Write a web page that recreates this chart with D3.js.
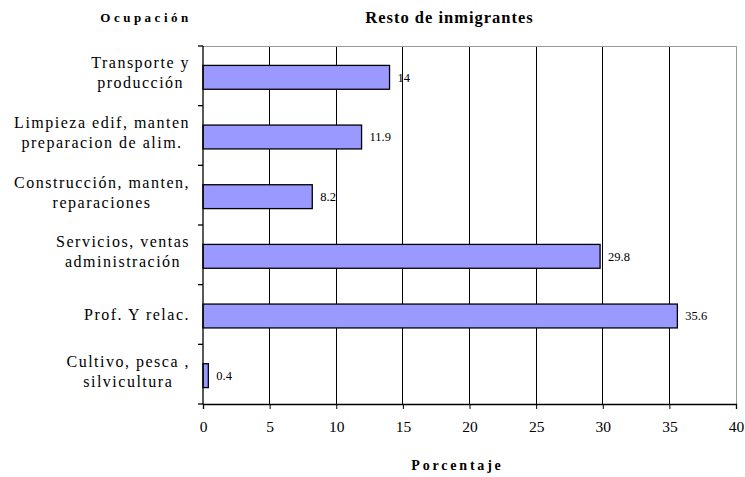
<!DOCTYPE html>
<html><head><meta charset="utf-8">
<script src="https://cdn.jsdelivr.net/npm/d3@7"></script>
<style>body{margin:0;background:#fff}svg{display:block}</style>
</head><body><svg id="c" width="745" height="477" font-family="Liberation Serif, serif"></svg>
<script>
const categories = [
  ["Transporte y","producción"],
  ["Limpieza edif, manten","preparacion de alim."],
  ["Construcción, manten,","reparaciones"],
  ["Servicios, ventas","administración"],
  ["Prof. Y relac."],
  ["Cultivo, pesca ,","silvicultura"]
];
const values = [14, 11.9, 8.2, 29.8, 35.6, 0.4];
const valueLabels = ["14","11.9","8.2","29.8","35.6","0.4"];
const xTicks = [0,5,10,15,20,25,30,35,40];

const FONT = "'Liberation Serif', 'Times New Roman', serif";
const svg = d3.select("#c");
const L = 203, R = 736, T = 46, B = 404;
const x = d3.scaleLinear().domain([0,40]).range([L,R]);
const y = d3.scaleBand().domain(d3.range(categories.length)).range([T,B]).paddingInner(0.6).paddingOuter(0.3);
const yb = d3.scaleBand().domain(d3.range(categories.length)).range([T,B]);

// gridlines
svg.append("g").selectAll("line").data(xTicks.slice(1)).join("line")
  .attr("x1",d=>x(d)).attr("x2",d=>x(d)).attr("y1",T).attr("y2",B)
  .attr("stroke",d=>d===40?"#999":"#000").attr("stroke-width",1).attr("shape-rendering","crispEdges");
// top border
svg.append("line").attr("x1",L).attr("x2",R).attr("y1",T).attr("y2",T).attr("stroke","#999").attr("shape-rendering","crispEdges");

// bars
svg.append("g").selectAll("rect").data(values).join("rect")
  .attr("x",x(0)).attr("y",(d,i)=>y(i)+1.5).attr("width",d=>x(d)-x(0)).attr("height",y.bandwidth())
  .attr("fill","#9999ff").attr("stroke","#000").attr("stroke-width",1.3);

// value labels
svg.append("g").selectAll("text").data(values).join("text")
  .attr("font-family",FONT)
  .attr("x",d=>x(d)+8).attr("y",(d,i)=>y(i)+1.5+y.bandwidth()/2).attr("dy","0.35em")
  .attr("font-size",12.5).attr("fill","#000").text((d,i)=>valueLabels[i]);

// x axis
const xa = svg.append("g").attr("transform",`translate(0,${B})`)
  .call(d3.axisBottom(x).tickValues(xTicks).tickSize(5).tickPadding(12).tickFormat(d3.format("d")));
xa.attr("font-family",FONT);
xa.select(".domain").attr("stroke","#000").attr("stroke-width",1.3);
xa.selectAll(".tick line").attr("stroke","#000");
xa.selectAll("text").attr("font-size",15.5).attr("font-family",FONT).attr("fill","#000");

// y axis line and ticks at band boundaries
svg.append("line").attr("x1",L).attr("x2",L).attr("y1",T).attr("y2",B).attr("stroke","#000").attr("stroke-width",1.3);
svg.append("g").selectAll("line").data(d3.range(categories.length+1)).join("line")
  .attr("x1",L-5).attr("x2",L).attr("y1",i=>T+i*yb.bandwidth()).attr("y2",i=>T+i*yb.bandwidth())
  .attr("stroke","#000").attr("stroke-width",1.3);

// category labels
const off = n => n > 1 ? -3 : 0;
const cl = svg.append("g").selectAll("text").data(categories).join("text")
  .attr("text-anchor","middle").attr("font-size",16).attr("letter-spacing",1.5)
  .attr("font-family",FONT).attr("fill","#000")
  .attr("transform",(d,i)=>`translate(100,${yb(i)+yb.bandwidth()/2+off(d.length)})`);
cl.each(function(lines){
  const t = d3.select(this);
  const n = lines.length;
  lines.forEach((s,k)=>{
    t.append("tspan").attr("x",0).attr("y",(k-(n-1)/2)*20).attr("dy","0.35em").text(s);
  });
});
cl.each(function(lines,i){
  const bb = this.getBBox();
  const cx = 190 - bb.width/2;
  d3.select(this).attr("transform",`translate(${cx},${yb(i)+yb.bandwidth()/2+off(lines.length)})`);
});

// titles
svg.append("text").attr("x",449.5).attr("y",23).attr("text-anchor","middle").attr("font-family",FONT)
  .attr("font-size",16.5).attr("font-weight","bold").attr("letter-spacing",1).text("Resto de inmigrantes");
svg.append("text").attr("x",146).attr("y",22).attr("text-anchor","middle").attr("font-family",FONT)
  .attr("font-size",13).attr("font-weight","bold").attr("letter-spacing",3.5).text("Ocupación");
svg.append("text").attr("x",457.5).attr("y",470).attr("text-anchor","middle").attr("font-family",FONT)
  .attr("font-size",14).attr("font-weight","bold").attr("letter-spacing",2.8).text("Porcentaje");
</script></body></html>
